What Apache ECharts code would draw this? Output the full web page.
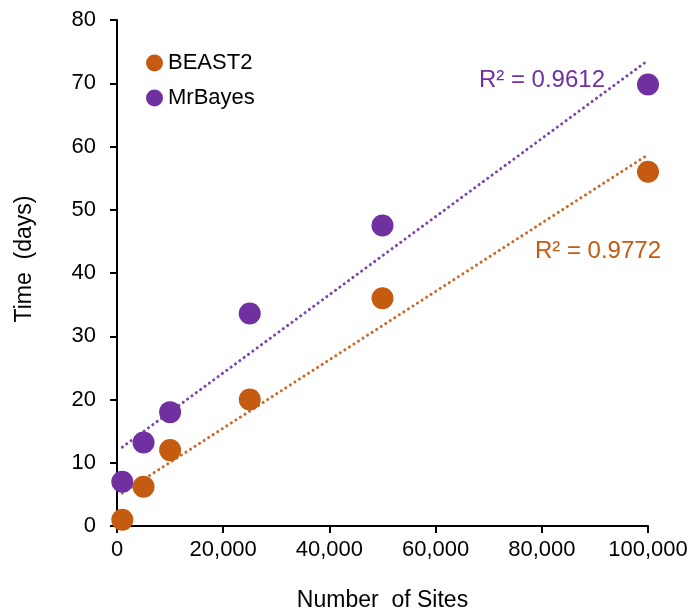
<!DOCTYPE html>
<html><head><meta charset="utf-8">
<script src="https://cdn.jsdelivr.net/npm/echarts@6/dist/echarts.min.js"></script>
<style>html,body{margin:0;padding:0;background:#fff}#c{width:694px;height:611px}</style>
</head><body><div id="c"></div>
<script>
const sites = [1000, 5000, 10000, 25000, 50000, 100000];
const beast2 = [1.0, 6.2, 12.0, 20.0, 36.0, 56.0];
const mrbayes = [7.0, 13.2, 18.0, 33.6, 47.5, 69.8];
const xTicks = [0, 20000, 40000, 60000, 80000, 100000];
const yTicks = [0, 10, 20, 30, 40, 50, 60, 70, 80];
const r2Labels = ['R² = 0.9772', 'R² = 0.9612'];

const ORANGE = '#C55A11', PURPLE = '#7030A0';
function fit(xs, ys) {
  const n = xs.length;
  const mx = xs.reduce((a, b) => a + b) / n, my = ys.reduce((a, b) => a + b) / n;
  let sxy = 0, sxx = 0;
  for (let i = 0; i < n; i++) { sxy += (xs[i] - mx) * (ys[i] - my); sxx += (xs[i] - mx) ** 2; }
  const m = sxy / sxx, b = my - m * mx;
  const x0 = xs[0], x1 = xs[n - 1];
  return [[x0, m * x0 + b], [x1, m * x1 + b]];
}
const pts = (ys) => sites.map((x, i) => [x, ys[i]]);
const font = 'Arial, "Liberation Sans", sans-serif';
const chart = echarts.init(document.getElementById('c'));
const dotted = (c) => ({ color: c, width: 3, type: [0.1, 5.3], cap: 'round', opacity: 0.9 });
chart.setOption({
  animation: false,
  grid: { left: 117, right: 46, top: 20, bottom: 85, containLabel: false, outerBoundsMode: 'none' },
  legend: {
    left: 141, top: 47, orient: 'vertical', itemGap: 13, itemWidth: 17, itemHeight: 17,
    icon: 'circle', textStyle: { fontSize: 22, color: '#000', fontFamily: font },
    data: ['BEAST2', 'MrBayes']
  },
  xAxis: {
    type: 'value', min: 0, max: 100000, interval: 20000,
    name: 'Number  of Sites', nameLocation: 'middle', nameGap: 63,
    nameTextStyle: { fontSize: 23, color: '#000', fontFamily: font },
    axisLine: { lineStyle: { color: '#000', width: 2 } },
    axisTick: { show: true, length: 7, lineStyle: { color: '#000', width: 2 } },
    axisLabel: { fontSize: 22, color: '#000', fontFamily: font, margin: 13,
      formatter: v => v.toLocaleString('en-US') },
    splitLine: { show: false }
  },
  yAxis: {
    type: 'value', min: 0, max: 80, interval: 10,
    name: 'Time  (days)', nameLocation: 'middle', nameGap: 81, nameRotate: 90,
    nameTextStyle: { fontSize: 23, color: '#000', fontFamily: font, padding: [0, 0, 0, 28] },
    axisLine: { show: true, lineStyle: { color: '#000', width: 2 } },
    axisTick: { show: true, length: 7, lineStyle: { color: '#000', width: 2 } },
    axisLabel: { fontSize: 22, color: '#000', fontFamily: font, margin: 21 },
    splitLine: { show: false }
  },
  series: [
    { name: 'BEAST2 trend', type: 'line', data: fit(sites, beast2), symbol: 'none', lineStyle: dotted(ORANGE), z: 1, silent: true },
    { name: 'MrBayes trend', type: 'line', data: fit(sites, mrbayes), symbol: 'none', lineStyle: dotted(PURPLE), z: 1, silent: true },
    { name: 'BEAST2', type: 'scatter', data: pts(beast2), symbolSize: 22, itemStyle: { color: ORANGE, opacity: 1 }, z: 3 },
    { name: 'MrBayes', type: 'scatter', data: pts(mrbayes), symbolSize: 22, itemStyle: { color: PURPLE, opacity: 1 }, z: 3 }
  ],
  graphic: [
    { type: 'text', right: 33, top: 239, style: { text: r2Labels[0], fontSize: 24, fill: ORANGE, fontFamily: font } },
    { type: 'text', right: 89, top: 68, style: { text: r2Labels[1], fontSize: 24, fill: PURPLE, fontFamily: font } }
  ]
});
</script></body></html>
